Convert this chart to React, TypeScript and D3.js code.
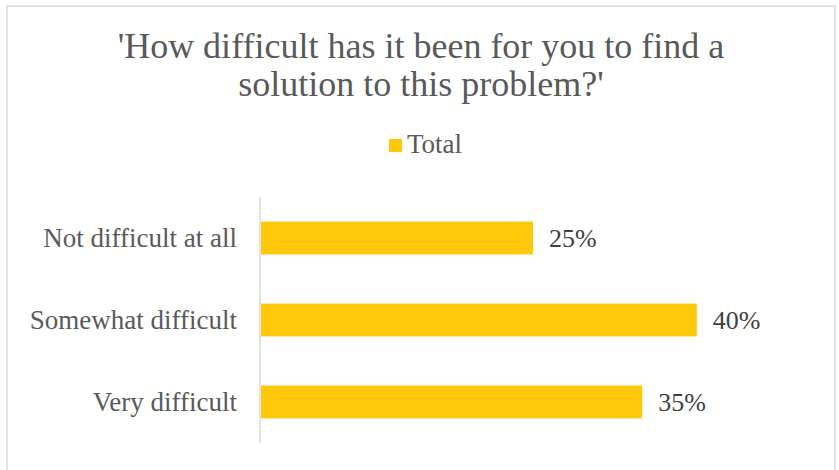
import React from "react";
import * as d3 from "d3";

const categories = ["Not difficult at all", "Somewhat difficult", "Very difficult"];
const values = [0.25, 0.4, 0.35];
const seriesName = "Total";
const titleLines = ["'How difficult has it been for you to find a", "solution to this problem?'"];

const W = 839;
const H = 470;
const FONT = "'Liberation Serif', 'Times New Roman', serif";
const BAR = "#FFC90A";

export default function App() {
  const x = d3.scaleLinear().domain([0, 0.45]).range([260, 751.4]);
  const y = d3
    .scaleBand<string>()
    .domain(categories)
    .range([197, 443])
    .paddingInner(0.6)
    .paddingOuter(0.3);
  const fmt = d3.format(".0%");
  const bw = y.bandwidth();

  return (
    <svg
      width={W}
      height={H}
      style={{ position: "absolute", left: 0, top: 0, background: "#fff" }}
    >
      <rect x={7} y={6} width={828} height={470} fill="#fff" stroke="#d9d9d9" strokeWidth={1.5} />
      {titleLines.map((t, i) => (
        <text
          key={i}
          x={421}
          y={58 + i * 38}
          textAnchor="middle"
          fontFamily={FONT}
          fontSize={36}
          fill="#595959"
        >
          {t}
        </text>
      ))}
      <rect x={389} y={139} width={13} height={13} fill={BAR} />
      <text x={407} y={153} fontFamily={FONT} fontSize={27} fill="#595959">
        {seriesName}
      </text>
      {categories.map((c, i) => {
        const yy = y(c)!;
        return (
          <g key={c}>
            <rect x={x(0) + 1} y={yy} width={x(values[i]) - x(0) - 1} height={bw} fill={BAR} />
            <text
              x={237}
              y={yy + bw / 2 + 9}
              textAnchor="end"
              fontFamily={FONT}
              fontSize={27}
              fill="#595959"
            >
              {c}
            </text>
            <text
              x={x(values[i]) + 16}
              y={yy + bw / 2 + 9}
              fontFamily={FONT}
              fontSize={26}
              fill="#404040"
            >
              {fmt(values[i])}
            </text>
          </g>
        );
      })}
      <line x1={x(0)} x2={x(0)} y1={197} y2={443} stroke="#d9d9d9" strokeWidth={1.5} />
    </svg>
  );
}
